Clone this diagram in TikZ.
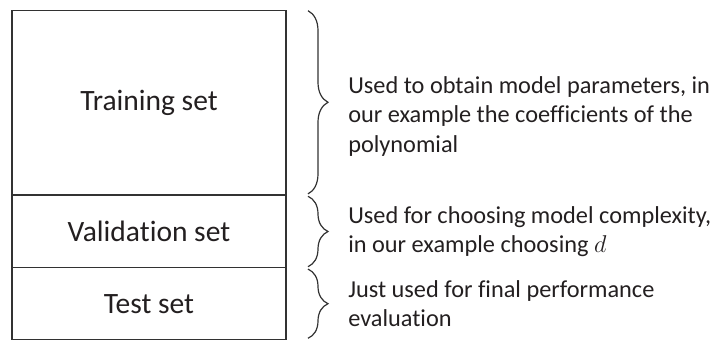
\documentclass[tikz,border=0pt]{standalone}
\usepackage{fontspec}
\setmainfont{Carlito}[Ligatures={NoCommon}]
\usepackage{tikz}
\usetikzlibrary{
  positioning,
  decorations.pathreplacing
}
\usepackage{xcolor}
\definecolor{cline}{RGB}{50,50,50}
\definecolor{ctext}{RGB}{35,31,32}
\tikzset{
  part/.style={
    rectangle, draw=cline, line width=0.85pt,
    minimum width=6.85cm, inner sep=0pt, outer sep=0pt,
    font=\fontsize{21}{25}\selectfont, text=ctext
  },
  bracket/.style={
    decorate, decoration={brace, amplitude=0.5cm},
    draw=cline, line width=0.85pt
  },
  note/.style={
    inner sep=0pt, align=left,
    font=\fontsize{17.3}{21}\selectfont, text=ctext
  }
}

\begin{document}
\begin{tikzpicture}[node distance=0cm]
    \useasboundingbox (-0.3,0.2675) rectangle (17.525,-8.2325);

    %% ---- Data split ------------------------------------------------
    \node[part, minimum height=4.61cm, anchor=north west]
      (train) at (0,0) {Training set};
    \node[part, minimum height=1.82cm, below=0cm of train]
      (valid) {Validation set};
    \node[part, minimum height=1.79cm, below=0cm of valid]
      (test) {Test set};

    %% ---- Braces ----------------------------------------------------
    \draw[bracket] ([xshift=0.55cm]train.north east)
      -- ([xshift=0.55cm, yshift=0.03cm]train.south east);
    \draw[bracket] ([xshift=0.55cm, yshift=-0.03cm]valid.north east)
      -- ([xshift=0.55cm, yshift=0.03cm]valid.south east);
    \draw[bracket] ([xshift=0.55cm, yshift=-0.03cm]test.north east)
      -- ([xshift=0.55cm, yshift=0.03cm]test.south east);

    \coordinate (t1) at ([xshift=1.05cm]train.east);
    \coordinate (t2) at ([xshift=1.05cm]valid.east);
    \coordinate (t3) at ([xshift=1.05cm]test.east);

    %% ---- Explanations ----------------------------------------------
    \node[note, right=0.5cm of t1, yshift=-0.33cm] (n1)
      {Used to obtain model parameters, in\\
       our example the coefficients of the\\
       polynomial};
    \node[note, right=0.5cm of t2] (n2)
      {Used for choosing model complexity,\\
       in our example choosing $d$};
    \node[note, right=0.5cm of t3] (n3)
      {Just used for final performance\\
       evaluation};

\end{tikzpicture}
\end{document}
